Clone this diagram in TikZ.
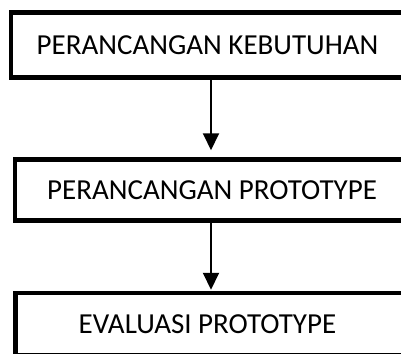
\documentclass[tikz,border=0pt]{standalone}
\usepackage{fontspec}
\setmainfont{Carlito}
\usetikzlibrary{arrows.meta}
\tikzset{
	kotak/.style={rectangle, draw, line width=4.5pt, fill=white, inner sep=0pt,
		font=\fontsize{29}{34}\selectfont},
	panah/.style={line width=2pt, -{Triangle[length=17pt,width=16pt]}}
}
\begin{document}
\begin{tikzpicture}[x=1pt,y=-1pt]
	\useasboundingbox (0,0) rectangle (401,353);
	\clip (0,0) rectangle (401,353);
	\node (keb)   at (223,  45)	[kotak, minimum width=424pt, minimum height=65pt]	{\hspace*{-31pt}PERANCANGAN KEBUTUHAN};
	\node (proto) at (225, 190)	[kotak, minimum width=420pt, minimum height=61pt]	{\hspace*{-26pt}PERANCANGAN PROTOTYPE};
	\node (eval)  at (225.25, 324.25)	[kotak, minimum width=419.5pt, minimum height=62.5pt]	{\hspace*{-35.5pt}EVALUASI PROTOTYPE};
	\draw[panah, shorten >=7pt] ([xshift=-12pt]keb.south) -- ([xshift=-14pt]proto.north);
	\draw[panah, shorten >=1pt] ([xshift=-14pt]proto.south) -- ([xshift=-14.25pt]eval.north);
\end{tikzpicture}
\end{document}
